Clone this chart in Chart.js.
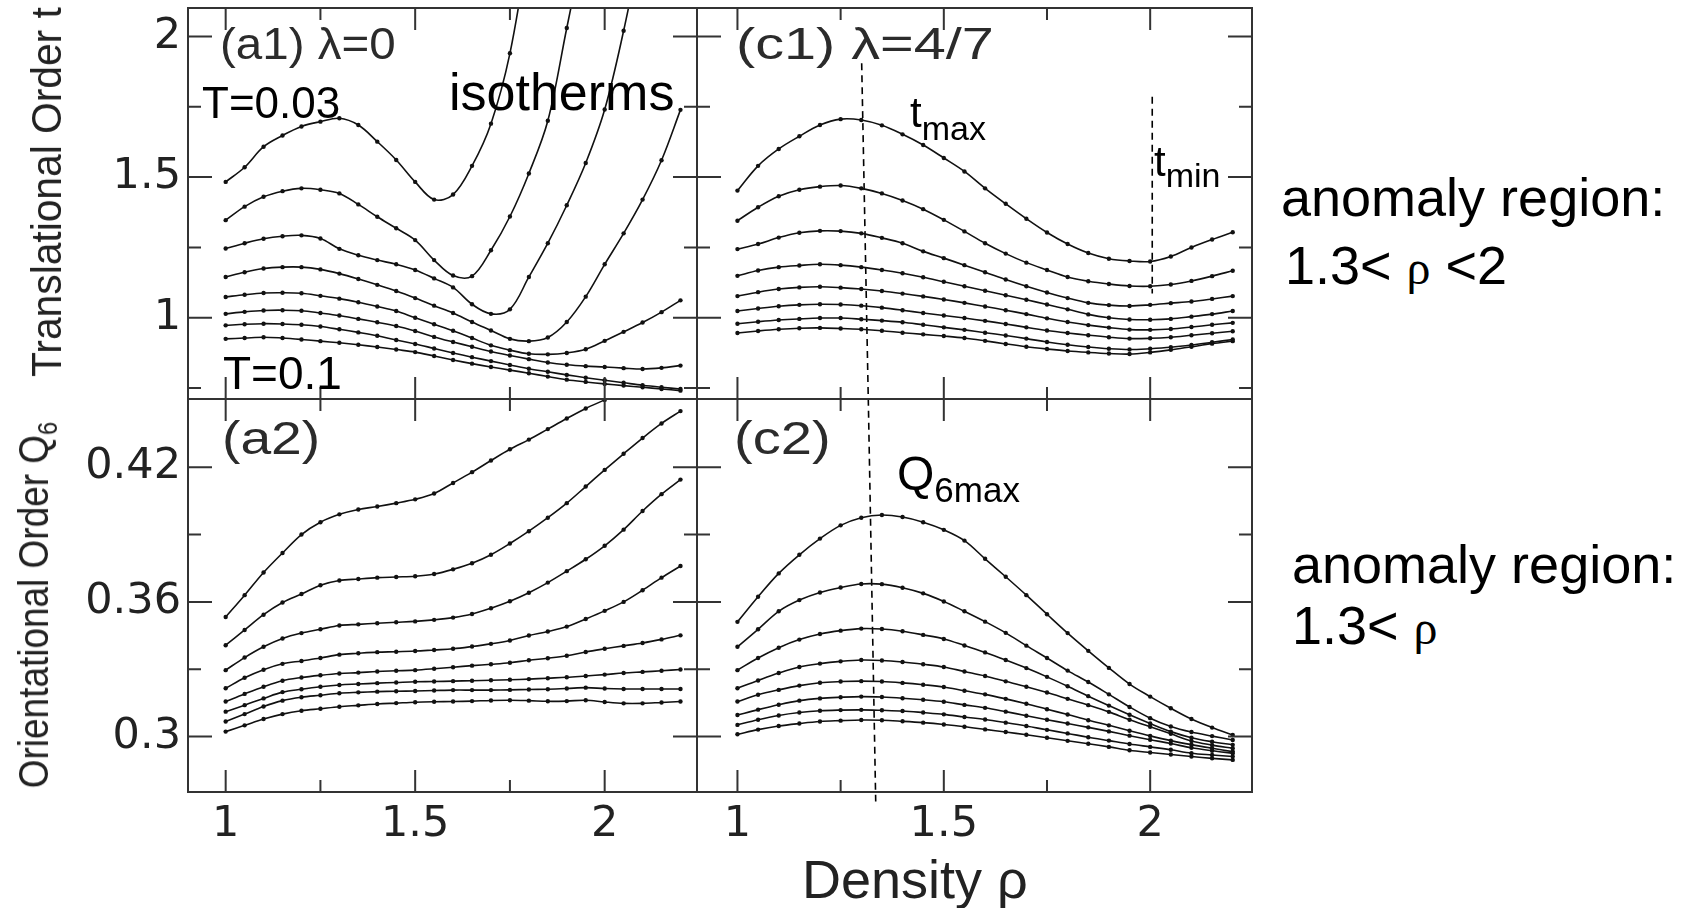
<!DOCTYPE html>
<html lang="en">
<head>
<meta charset="UTF-8">
<title>Translational and orientational order isotherms</title>
<script src="https://cdn.jsdelivr.net/npm/chart.js"></script>
<style>
  body { margin: 0; background: #fff; }
  #page { position: relative; width: 1684px; height: 908px; overflow: hidden; background: #fff;
          font-family: "Liberation Sans", Arial, sans-serif; }
  #plots canvas { position: absolute; }
  .txt { position: absolute; white-space: nowrap; line-height: 1; color: #000; }
  .fig { color: #2b2b2b; transform-origin: left top; }
  .ttl { position: absolute; white-space: nowrap; line-height: 1; color: #222; font-size: 42px; }
  .sub { position: relative; }
  .rho { font-family: "Liberation Serif", serif; font-size: 48px; }
</style>
</head>
<body>
<div id="page">
  <div id="plots"></div>

  <div class="ttl" style="left:47px;top:192px;transform:translate(-50%,-50%) rotate(-90deg) scaleX(0.97)">Translational Order t</div>
  <div class="ttl" style="left:34px;top:605px;transform:translate(-50%,-50%) rotate(-90deg) scaleX(0.88)">Orientational Order Q<span class="sub" style="font-size:27px;top:9px">6</span></div>
  <div class="ttl" style="left:802px;top:852px;font-size:54px">Density ρ</div>

  <div class="txt fig" style="left:220px;top:22px;font-size:44px;transform:scaleX(1.08)">(a1) λ=0</div>
  <div class="txt fig" style="left:736px;top:22px;font-size:44px;transform:scaleX(1.31)">(c1) λ=4/7</div>
  <div class="txt fig" style="left:222px;top:415px;font-size:46px;transform:scaleX(1.2)">(a2)</div>
  <div class="txt fig" style="left:734px;top:415px;font-size:46px;transform:scaleX(1.22)">(c2)</div>

  <div class="txt" style="left:202px;top:81px;font-size:44px">T=0.03</div>
  <div class="txt" style="left:449px;top:66px;font-size:52px">isotherms</div>
  <div class="txt" style="left:223px;top:350px;font-size:46px">T=0.1</div>
  <div class="txt" style="left:910px;top:92px;font-size:42px">t<span class="sub" style="font-size:34px;top:13px">max</span></div>
  <div class="txt" style="left:1154px;top:141px;font-size:42px">t<span class="sub" style="font-size:34px;top:11px">min</span></div>
  <div class="txt" style="left:897px;top:450px;font-size:48px">Q<span class="sub" style="font-size:35px;top:12px">6max</span></div>

  <div class="txt" style="left:1281px;top:170px;font-size:54px">anomaly region:</div>
  <div class="txt" style="left:1285px;top:238px;font-size:54px">1.3&lt; <span class="rho">ρ</span> &lt;2</div>
  <div class="txt" style="left:1292px;top:537px;font-size:54px">anomaly region:</div>
  <div class="txt" style="left:1292px;top:598px;font-size:54px">1.3&lt; <span class="rho">ρ</span></div>
</div>

<script>
// density grid shared by every isotherm
const rho = [1.00, 1.05, 1.10, 1.15, 1.20, 1.25, 1.30, 1.35, 1.40, 1.45, 1.50, 1.55, 1.60,
             1.65, 1.70, 1.75, 1.80, 1.85, 1.90, 1.95, 2.00, 2.05, 2.10, 2.15, 2.20];

// (a1) translational order t, lambda = 0, isotherms T = 0.03 (top) ... T = 0.1 (bottom)
const tLambda0 = [
  [1.483, 1.535, 1.608, 1.648, 1.680, 1.697, 1.709, 1.685, 1.626, 1.561, 1.483, 1.420, 1.438, 1.540, 1.690, 1.940, 2.330, null, null, null, null, null, null, null, null],
  [1.347, 1.395, 1.430, 1.450, 1.460, 1.455, 1.442, 1.403, 1.359, 1.318, 1.276, 1.205, 1.150, 1.148, 1.240, 1.360, 1.513, 1.700, 2.030, 2.360, null, null, null, null, null],
  [1.246, 1.265, 1.281, 1.290, 1.293, 1.282, 1.245, 1.222, 1.205, 1.190, 1.170, 1.140, 1.108, 1.048, 1.014, 1.030, 1.145, 1.265, 1.400, 1.550, 1.740, 2.020, 2.350, null, null],
  [1.145, 1.162, 1.175, 1.180, 1.180, 1.172, 1.157, 1.138, 1.117, 1.095, 1.070, 1.043, 1.017, 0.985, 0.955, 0.925, 0.917, 0.930, 0.985, 1.075, 1.190, 1.300, 1.420, 1.560, 1.739],
  [1.074, 1.082, 1.088, 1.089, 1.087, 1.078, 1.068, 1.055, 1.040, 1.024, 1.000, 0.977, 0.954, 0.928, 0.902, 0.885, 0.872, 0.870, 0.875, 0.888, 0.918, 0.950, 0.983, 1.020, 1.062],
  [1.014, 1.021, 1.026, 1.027, 1.025, 1.017, 1.008, 0.996, 0.984, 0.971, 0.953, 0.932, 0.914, 0.897, 0.880, 0.866, 0.853, 0.841, 0.833, 0.828, 0.825, 0.821, 0.818, 0.822, 0.830],
  [0.973, 0.977, 0.979, 0.978, 0.975, 0.969, 0.959, 0.948, 0.936, 0.921, 0.907, 0.891, 0.875, 0.860, 0.846, 0.832, 0.819, 0.808, 0.797, 0.787, 0.778, 0.769, 0.760, 0.753, 0.747],
  [0.925, 0.928, 0.931, 0.928, 0.923, 0.917, 0.911, 0.904, 0.896, 0.887, 0.878, 0.864, 0.850, 0.837, 0.825, 0.814, 0.803, 0.791, 0.780, 0.772, 0.765, 0.759, 0.753, 0.747, 0.741]
];

// (c1) translational order t, lambda = 4/7
const tLambda47 = [
  [1.452, 1.540, 1.600, 1.645, 1.685, 1.706, 1.703, 1.684, 1.652, 1.614, 1.568, 1.520, 1.460, 1.405, 1.352, 1.303, 1.262, 1.230, 1.210, 1.202, 1.200, 1.218, 1.250, 1.278, 1.304],
  [1.345, 1.393, 1.432, 1.455, 1.466, 1.470, 1.460, 1.442, 1.417, 1.386, 1.348, 1.307, 1.265, 1.228, 1.196, 1.170, 1.145, 1.130, 1.120, 1.113, 1.112, 1.118, 1.131, 1.148, 1.167],
  [1.244, 1.262, 1.285, 1.302, 1.309, 1.308, 1.300, 1.284, 1.265, 1.236, 1.212, 1.187, 1.162, 1.136, 1.112, 1.090, 1.070, 1.053, 1.045, 1.042, 1.046, 1.052, 1.058, 1.067, 1.077],
  [1.149, 1.168, 1.180, 1.186, 1.190, 1.187, 1.180, 1.170, 1.158, 1.144, 1.128, 1.112, 1.096, 1.080, 1.064, 1.047, 1.030, 1.012, 1.000, 0.994, 0.993, 0.996, 1.004, 1.013, 1.024],
  [1.077, 1.091, 1.102, 1.108, 1.110, 1.107, 1.102, 1.095, 1.086, 1.076, 1.065, 1.053, 1.040, 1.027, 1.013, 0.998, 0.985, 0.974, 0.965, 0.958, 0.957, 0.960, 0.967, 0.975, 0.982],
  [1.024, 1.033, 1.041, 1.046, 1.048, 1.047, 1.043, 1.036, 1.027, 1.017, 1.008, 0.999, 0.989, 0.978, 0.966, 0.955, 0.946, 0.938, 0.931, 0.926, 0.927, 0.931, 0.938, 0.945, 0.952],
  [0.979, 0.986, 0.992, 0.996, 0.999, 0.999, 0.995, 0.990, 0.984, 0.975, 0.966, 0.957, 0.947, 0.937, 0.926, 0.914, 0.904, 0.896, 0.890, 0.887, 0.890, 0.895, 0.903, 0.913, 0.923],
  [0.946, 0.953, 0.959, 0.963, 0.964, 0.962, 0.959, 0.954, 0.947, 0.941, 0.935, 0.928, 0.918, 0.907, 0.897, 0.889, 0.882, 0.877, 0.873, 0.871, 0.877, 0.886, 0.897, 0.908, 0.917]
];

// (a2) orientational order Q6, lambda = 0
const q6Lambda0 = [
  [0.3533, 0.3630, 0.3731, 0.3818, 0.3900, 0.3955, 0.3990, 0.4012, 0.4025, 0.4040, 0.4057, 0.4083, 0.4130, 0.4178, 0.4230, 0.4280, 0.4323, 0.4370, 0.4417, 0.4462, 0.4500, 0.4540, null, null, null],
  [0.3407, 0.3475, 0.3543, 0.3597, 0.3635, 0.3674, 0.3695, 0.3702, 0.3708, 0.3711, 0.3714, 0.3724, 0.3745, 0.3772, 0.3810, 0.3860, 0.3915, 0.3975, 0.4040, 0.4114, 0.4188, 0.4260, 0.4330, 0.4395, 0.4450],
  [0.3296, 0.3352, 0.3400, 0.3437, 0.3461, 0.3478, 0.3495, 0.3500, 0.3505, 0.3509, 0.3513, 0.3520, 0.3530, 0.3546, 0.3572, 0.3603, 0.3641, 0.3686, 0.3737, 0.3790, 0.3850, 0.3922, 0.4005, 0.4080, 0.4145],
  [0.3215, 0.3262, 0.3298, 0.3324, 0.3337, 0.3350, 0.3365, 0.3371, 0.3376, 0.3378, 0.3381, 0.3386, 0.3391, 0.3401, 0.3413, 0.3428, 0.3450, 0.3468, 0.3490, 0.3524, 0.3560, 0.3600, 0.3652, 0.3708, 0.3760],
  [0.3156, 0.3190, 0.3222, 0.3249, 0.3263, 0.3273, 0.3281, 0.3285, 0.3290, 0.3293, 0.3296, 0.3302, 0.3309, 0.3316, 0.3322, 0.3329, 0.3340, 0.3349, 0.3360, 0.3377, 0.3391, 0.3404, 0.3417, 0.3433, 0.3451],
  [0.3111, 0.3140, 0.3170, 0.3198, 0.3211, 0.3222, 0.3230, 0.3234, 0.3238, 0.3241, 0.3244, 0.3245, 0.3247, 0.3249, 0.3251, 0.3253, 0.3256, 0.3260, 0.3264, 0.3270, 0.3276, 0.3283, 0.3288, 0.3293, 0.3299],
  [0.3067, 0.3100, 0.3134, 0.3160, 0.3175, 0.3184, 0.3193, 0.3197, 0.3200, 0.3202, 0.3203, 0.3205, 0.3207, 0.3207, 0.3207, 0.3208, 0.3210, 0.3211, 0.3214, 0.3218, 0.3214, 0.3212, 0.3212, 0.3212, 0.3212],
  [0.3022, 0.3050, 0.3078, 0.3100, 0.3115, 0.3124, 0.3133, 0.3139, 0.3145, 0.3149, 0.3153, 0.3155, 0.3156, 0.3158, 0.3161, 0.3162, 0.3160, 0.3157, 0.3158, 0.3162, 0.3154, 0.3148, 0.3148, 0.3152, 0.3156]
];

// (c2) orientational order Q6, lambda = 4/7
const q6Lambda47 = [
  [0.3511, 0.3623, 0.3727, 0.3810, 0.3882, 0.3941, 0.3975, 0.3987, 0.3978, 0.3955, 0.3921, 0.3873, 0.3792, 0.3712, 0.3630, 0.3545, 0.3461, 0.3382, 0.3306, 0.3234, 0.3178, 0.3126, 0.3078, 0.3040, 0.3007],
  [0.3400, 0.3478, 0.3558, 0.3608, 0.3642, 0.3664, 0.3680, 0.3679, 0.3663, 0.3638, 0.3602, 0.3558, 0.3512, 0.3462, 0.3405, 0.3350, 0.3294, 0.3243, 0.3188, 0.3132, 0.3082, 0.3045, 0.3020, 0.3002, 0.2985],
  [0.3296, 0.3350, 0.3396, 0.3432, 0.3457, 0.3472, 0.3481, 0.3479, 0.3469, 0.3453, 0.3435, 0.3406, 0.3375, 0.3341, 0.3305, 0.3266, 0.3224, 0.3180, 0.3138, 0.3097, 0.3058, 0.3022, 0.2995, 0.2977, 0.2963],
  [0.3215, 0.3250, 0.3283, 0.3310, 0.3325, 0.3335, 0.3341, 0.3339, 0.3332, 0.3322, 0.3310, 0.3290, 0.3270, 0.3246, 0.3222, 0.3196, 0.3168, 0.3140, 0.3110, 0.3075, 0.3044, 0.3012, 0.2980, 0.2962, 0.2948],
  [0.3156, 0.3186, 0.3208, 0.3227, 0.3240, 0.3245, 0.3247, 0.3245, 0.3239, 0.3231, 0.3221, 0.3204, 0.3188, 0.3168, 0.3146, 0.3122, 0.3098, 0.3073, 0.3050, 0.3026, 0.3003, 0.2982, 0.2964, 0.2948, 0.2933],
  [0.3096, 0.3120, 0.3142, 0.3160, 0.3170, 0.3175, 0.3178, 0.3176, 0.3171, 0.3164, 0.3155, 0.3141, 0.3128, 0.3111, 0.3093, 0.3075, 0.3058, 0.3041, 0.3023, 0.3004, 0.2986, 0.2969, 0.2950, 0.2937, 0.2926],
  [0.3052, 0.3075, 0.3094, 0.3107, 0.3115, 0.3118, 0.3119, 0.3117, 0.3114, 0.3107, 0.3099, 0.3087, 0.3076, 0.3062, 0.3047, 0.3030, 0.3014, 0.2997, 0.2982, 0.2967, 0.2954, 0.2941, 0.2926, 0.2918, 0.2911],
  [0.3010, 0.3031, 0.3047, 0.3058, 0.3067, 0.3071, 0.3074, 0.3073, 0.3068, 0.3062, 0.3054, 0.3044, 0.3032, 0.3020, 0.3008, 0.2995, 0.2981, 0.2968, 0.2954, 0.2939, 0.2929, 0.2920, 0.2911, 0.2903, 0.2896]
];

// dashed guide lines (t_max, t_min, Q6max)
const tMaxRho = [1.301, 1.317];
const tMaxT = [1.905, 0.711];
const tMinRho = [2.005, 2.005];
const tMinT = [1.786, 1.086];
const q6MaxRho = [1.317, 1.335];
const q6MaxQ = [0.4505, 0.2711];

// ticks
const rhoMajor = [1, 1.5, 2];
const rhoMinor = [1.25, 1.75];
const tMajor = [1, 1.5, 2];
const tMinor = [0.75, 1.25, 1.75];
const qMajor = [0.3, 0.36, 0.42];
const qMinor = [0.33, 0.39];

const PAD = 6;
const INK = '#111';

// frame with inward ticks on all four sides
const framePlugin = {
  id: 'frame',
  afterDatasetsDraw(chart, args, o) {
    const { ctx, chartArea: a, scales: { x, y } } = chart;
    ctx.save();
    ctx.strokeStyle = '#333';
    ctx.lineWidth = 2;
    ctx.strokeRect(a.left, a.top, a.right - a.left, a.bottom - a.top);
    ctx.beginPath();
    const xt = (vals, len) => vals.forEach(v => {
      const px = x.getPixelForValue(v);
      ctx.moveTo(px, a.bottom); ctx.lineTo(px, a.bottom - len);
      ctx.moveTo(px, a.top); ctx.lineTo(px, a.top + len);
    });
    const yt = (vals, len) => vals.forEach(v => {
      const py = y.getPixelForValue(v);
      ctx.moveTo(a.left, py); ctx.lineTo(a.left + len, py);
      ctx.moveTo(a.right, py); ctx.lineTo(a.right - len, py);
    });
    xt(o.xMajor, 22); xt(o.xMinor, 12);
    yt(o.yMajor, 24); yt(o.yMinor, 13);
    ctx.stroke();
    ctx.restore();
  }
};

function curveSets(rows) {
  return rows.map((vals, i) => ({
    label: 'isotherm ' + (i + 1),
    data: rho.map((r, k) => ({ x: r, y: vals[k] })),
    borderColor: INK,
    backgroundColor: INK,
    borderWidth: 1.6,
    pointRadius: 2.2,
    pointBorderWidth: 0,
    pointBackgroundColor: INK,
    tension: 0.35,
    spanGaps: false
  }));
}

function guide(xs, ys, clip) {
  return {
    label: 'guide',
    data: xs.map((r, k) => ({ x: r, y: ys[k] })),
    borderColor: '#000',
    borderWidth: 1.6,
    borderDash: [7, 5],
    pointRadius: 0,
    tension: 0,
    clip: clip
  };
}

// keep the axis boxes at a fixed size so every plot area lands on its box
function fixBox(s, w, h) {
  if (w !== null) s.width = w;
  if (h !== null) s.height = h;
  s.paddingTop = 0; s.paddingBottom = 0; s.paddingLeft = 0; s.paddingRight = 0;
}

function panel(p) {
  const [L, T, R, B] = p.box;
  const c = document.createElement('canvas');
  c.width = (R - L) + 2 * PAD + p.yW;
  c.height = (B - T) + 2 * PAD + p.xH;
  c.style.left = (L - PAD - p.yW) + 'px';
  c.style.top = (T - PAD) + 'px';
  document.getElementById('plots').appendChild(c);

  const tickFont = { family: 'DejaVu Sans', size: 43 };
  new Chart(c.getContext('2d'), {
    type: 'line',
    data: { datasets: curveSets(p.rows).concat(p.guides) },
    options: {
      responsive: false,
      animation: false,
      layout: { padding: PAD },
      elements: { line: { capBezierPoints: false } },
      plugins: {
        legend: { display: false },
        tooltip: { enabled: false },
        frame: { xMajor: rhoMajor, xMinor: rhoMinor, yMajor: p.yMajor, yMinor: p.yMinor }
      },
      scales: {
        x: {
          type: 'linear', min: p.xRange[0], max: p.xRange[1],
          grid: { display: false, drawTicks: false }, border: { display: false },
          afterBuildTicks: s => { s.ticks = rhoMajor.map(v => ({ value: v })); },
          afterFit: s => fixBox(s, null, p.xH),
          ticks: { display: p.xH > 0, font: tickFont, color: '#222', padding: 7,
                   maxRotation: 0, autoSkip: false, callback: v => String(v) }
        },
        y: {
          type: 'linear', min: p.yRange[0], max: p.yRange[1],
          grid: { display: false, drawTicks: false }, border: { display: false },
          afterBuildTicks: s => { s.ticks = p.yMajor.map(v => ({ value: v })); },
          afterFit: s => fixBox(s, p.yW, null),
          ticks: { display: p.yW > 0, font: tickFont, color: '#222', padding: 7,
                   autoSkip: false, callback: v => String(v) }
        }
      }
    },
    plugins: [framePlugin]
  });
}

panel({ box: [188, 8, 697, 399], yW: 175, xH: 0, rows: tLambda0, guides: [],
        xRange: [0.9006, 2.2436], yRange: [0.7113, 2.101], yMajor: tMajor, yMinor: tMinor });
panel({ box: [697, 8, 1252, 399], yW: 0, xH: 0, rows: tLambda47,
        guides: [guide(tMaxRho, tMaxT, true), guide(tMinRho, tMinT, true)],
        xRange: [0.902, 2.2467], yRange: [0.7113, 2.101], yMajor: tMajor, yMinor: tMinor });
panel({ box: [188, 399, 697, 792], yW: 175, xH: 70, rows: q6Lambda0, guides: [],
        xRange: [0.9006, 2.2436], yRange: [0.2753, 0.4504], yMajor: qMajor, yMinor: qMinor });
panel({ box: [697, 399, 1252, 792], yW: 0, xH: 70, rows: q6Lambda47,
        guides: [guide(q6MaxRho, q6MaxQ, false)],
        xRange: [0.902, 2.2467], yRange: [0.2753, 0.4504], yMajor: qMajor, yMinor: qMinor });
</script>
</body>
</html>
